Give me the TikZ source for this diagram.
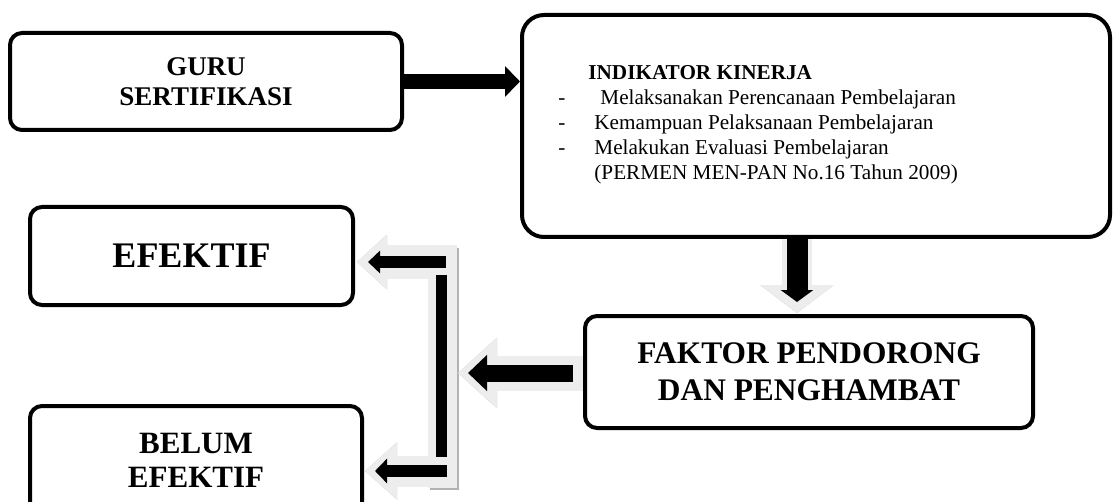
\documentclass[tikz,border=0pt]{standalone}
\usepackage{fontspec}
\setmainfont{Liberation Serif}
\usetikzlibrary{arrows.meta, positioning}

\begin{document}
\begin{tikzpicture}[x=0.5pt, y=-0.5pt,
  box/.style={draw, line width=2pt, rounded corners=6pt, align=center, inner sep=0pt, font=\bfseries},
  halo/.style={draw=black!7},
  haloshadow/.style={draw=black!30, shift={(1.5,1.5)}}]
\useasboundingbox (0,0) rectangle (1113,502);
\node[box, minimum width=196pt, minimum height=48.5pt, font=\bfseries\fontsize{13.5}{15}\selectfont] (guru) at (206,81.5) {GURU\\SERTIFIKASI};
\node[box, minimum width=294pt, minimum height=111pt, rounded corners=11pt] (indikator) at (816,126) {};
\node[anchor=north west, align=left, inner sep=0pt, font=\fontsize{10.6}{12.5}\selectfont] (daftar) at (558,65) {\hspace*{15pt}\textbf{INDIKATOR KINERJA}\\
\makebox[18pt][l]{-}\hspace{3pt}Melaksanakan Perencanaan Pembelajaran\\
\makebox[18pt][l]{-}Kemampuan Pelaksanaan Pembelajaran\\
\makebox[18pt][l]{-}Melakukan Evaluasi Pembelajaran\\
\hspace*{18pt}(PERMEN MEN-PAN No.16 Tahun 2009)};
\node[box, minimum width=161.5pt, minimum height=49pt, font=\bfseries\fontsize{18}{20}\selectfont] (efektif) at (191.5,256) {EFEKTIF};
\node[box, minimum width=166pt, minimum height=54pt, font=\bfseries\fontsize{15.5}{17}\selectfont] (belum) at (196,460) {BELUM\\EFEKTIF};
\node[box, minimum width=224pt, minimum height=56pt, font=\bfseries\fontsize{15.7}{18.5}\selectfont] (faktor) at (809,372) {FAKTOR PENDORONG\\DAN PENGHAMBAT};

\draw[line width=7.5pt, -{Triangle[width=15pt,length=7.5pt]}] (guru.east) -- (guru.east -| indikator.west);

\coordinate (turun) at (797,239);
\coordinate (turunujung) at (797,313);
\coordinate (turunhitam) at (797,302);
\draw[haloshadow, line width=15pt, -{Triangle[width=36pt,length=14pt]}] (turun) -- (turunujung);
\draw[halo, line width=15pt, -{Triangle[width=36pt,length=14pt]}] (turun) -- (turunujung);
\draw[line width=10.5pt, -{Triangle[width=16pt,length=6pt]}] (turun) -- (turunhitam);

\coordinate (tengah) at (458,373);
\coordinate (tengahhitam) at (468,373);
\coordinate (tengahawal) at (573,373);
\coordinate (atas) at (457,262);
\coordinate (ataskiri) at (357,262);
\coordinate (ataskirihitam) at (368,262);
\coordinate (bawah) at (457,471);
\coordinate (bawahkiri) at (365,471);
\coordinate (bawahkirihitam) at (375,471);

\foreach \st in {haloshadow, halo} {
  \draw[\st, line width=14.5pt] (442.5,247) -- (442.5,488);
  \draw[\st, line width=16.5pt, -{Triangle[width=26.5pt,length=15pt]}] (atas) -- (ataskiri);
  \draw[\st, line width=15.5pt, -{Triangle[width=27.5pt,length=16pt]}] (bawah) -- (bawahkiri);
  \draw[\st, line width=17.5pt, -{Triangle[width=34pt,length=19.5pt]}] (faktor.west |- tengah) -- (tengah);
}
\draw[line width=5.5pt] (441.5,275) -- (441.5,457);
\draw[line width=6pt, -{Triangle[width=11pt,length=6pt]}] (446,262) -- (ataskirihitam);
\draw[line width=6pt, -{Triangle[width=12pt,length=6pt]}] (447,471) -- (bawahkirihitam);
\draw[line width=8.5pt, -{Triangle[width=17.5pt,length=9.5pt]}] (tengahawal) -- (tengahhitam);
\end{tikzpicture}
\end{document}
